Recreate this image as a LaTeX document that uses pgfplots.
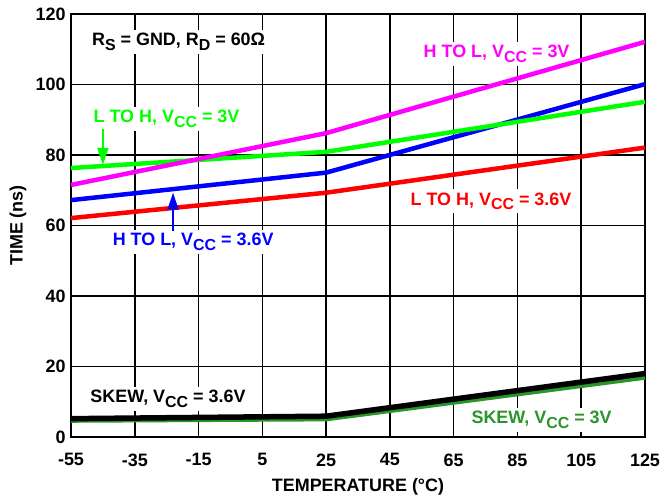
\documentclass[border=0pt]{standalone}
\usepackage{pgfplots}
\pgfplotsset{compat=1.18}
\usetikzlibrary{arrows.meta}
\usepackage{fontspec}
\setmainfont{Liberation Sans}
\definecolor{cmag}{RGB}{255,0,255}
\definecolor{cgreen}{RGB}{0,255,0}
\definecolor{cblue}{RGB}{0,0,255}
\definecolor{cred}{RGB}{255,0,0}
\definecolor{cdkgreen}{RGB}{40,150,40}
\newcommand\sub[1]{\raisebox{-0.25em}{\fontsize{16}{16}\selectfont #1}}
\newcommand\lbl{\bfseries\fontsize{18}{21}\selectfont}
\begin{document}
\begin{tikzpicture}
\begin{axis}[
  scale only axis, width=574bp, height=423bp,
  xmin=-55, xmax=125, ymin=0, ymax=120,
  xtick={-55,-35,...,125}, ytick={0,20,...,120},
  xticklabels={-55,-35,-15,5,25,45,65,85,105,125},
  yticklabels={0,20,40,60,80,100,120},
  grid=major, grid style={black, line width=1.6bp},
  axis line style={black, line width=2.2bp},
  tick style={draw=none},
  ticklabel style={font=\lbl},
  xticklabel style={yshift=-13bp},
  yticklabel style={xshift=-2bp},
  xlabel={TEMPERATURE (°C)},
  ylabel={TIME (ns)},
  label style={font=\lbl},
  xlabel style={at={(axis description cs:0.5,0)}, anchor=center, yshift=-50bp},
  ylabel style={at={(axis description cs:0,0.5)}, anchor=center, rotate=0, yshift=53bp},
  every node/.append style={inner sep=1.5bp},
]
\coordinate (SW) at (rel axis cs:0,0);
\coordinate (NE) at (rel axis cs:1,1);
\node[anchor=base west, fill=white, font=\lbl] at (axis cs:-49.5,111) {R\sub{S} = GND, R\sub{D} = 60Ω};
\node[anchor=base west, fill=white, font=\lbl, text=cmag] at (axis cs:54.5,107.6) {H TO L, V\sub{CC} = 3V};
\node[anchor=base west, fill=white, font=\lbl, text=cgreen] at (axis cs:-49,89.1) {L TO H, V\sub{CC} = 3V};
\node[anchor=base west, fill=white, font=\lbl, text=cred] at (axis cs:50.4,65.8) {L TO H, V\sub{CC} = 3.6V};
\node[anchor=base west, fill=white, font=\lbl, text=cblue] at (axis cs:-43,54.3) {H TO L, V\sub{CC} = 3.6V};
\node[anchor=base west, fill=white, font=\lbl, text=black] at (axis cs:-50,9.7) {SKEW, V\sub{CC} = 3.6V};
\node[anchor=base west, fill=white, font=\lbl, text=cdkgreen] at (axis cs:69.5,3.8) {SKEW, V\sub{CC} = 3V};

\addplot[cdkgreen, line width=4bp] coordinates {(-55,4.6) (25,5.0) (125,16.8)};
\addplot[black, line width=5.5bp] coordinates {(-55,5.2) (25,5.9) (125,18.0)};
\addplot[cred, line width=4.5bp] coordinates {(-55,62.1) (25,69.3) (125,82.1)};
\addplot[cblue, line width=4.5bp] coordinates {(-55,67.2) (25,75.0) (125,100.1)};
\addplot[cgreen, line width=4.5bp] coordinates {(-55,76.3) (25,80.9) (125,95.1)};
\addplot[cmag, line width=4.5bp] coordinates {(-55,71.5) (25,86.2) (125,112.1)};

\draw[cgreen, line width=1.8bp, -{Triangle[width=11bp,length=17bp]}] (axis cs:-45,87.5) -- (axis cs:-45,77.2);
\draw[cblue, line width=1.8bp, -{Triangle[width=11bp,length=17bp]}] (axis cs:-23,58.5) -- (axis cs:-23,69.3);
\end{axis}
\pgfresetboundingbox
\path ([xshift=-71bp,yshift=-62bp]SW) rectangle ([xshift=25bp,yshift=14bp]NE);
\end{tikzpicture}
\end{document}
